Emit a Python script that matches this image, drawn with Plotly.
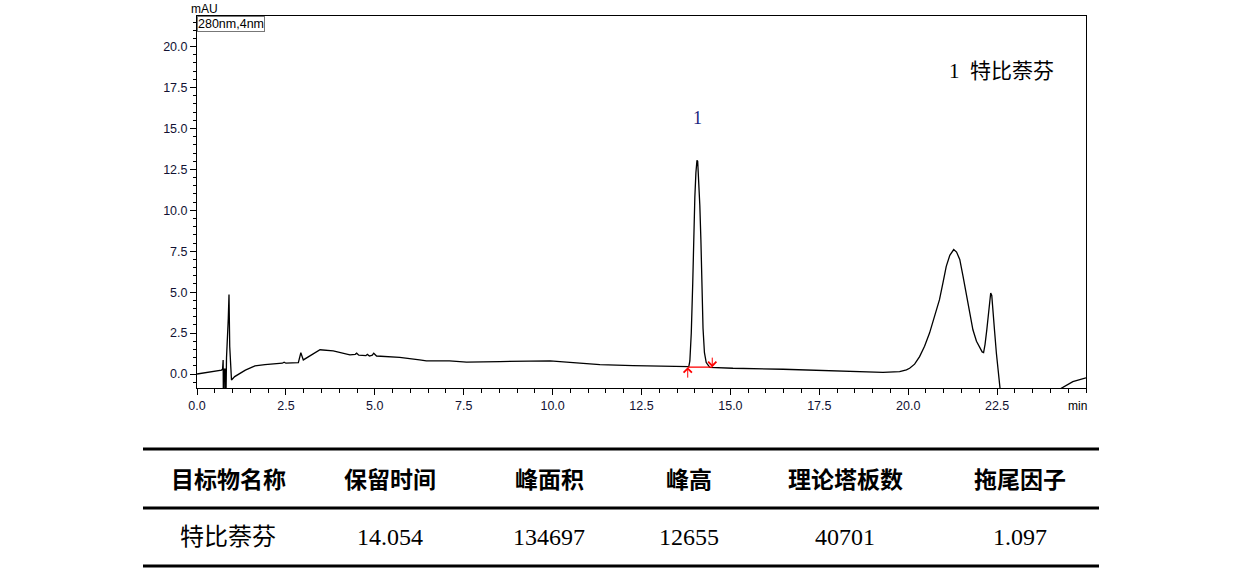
import plotly.graph_objects as go

# chromatogram (min, mAU)
time_min = [0.0, 0.35, 0.69, 0.72, 0.735, 0.745, 0.76, 0.79, 0.805, 0.83, 0.86, 0.88, 0.90, 0.92,
            0.97, 1.06, 1.36, 1.63, 1.91, 2.24, 2.40, 2.45, 2.50, 2.85, 2.92, 2.99, 3.46, 3.83,
            4.30, 4.45, 4.49, 4.55, 4.75, 4.79, 4.85, 4.93, 4.97, 5.05, 5.70, 6.26, 6.45, 7.10,
            7.58, 8.52, 9.46, 9.93, 10.58, 11.33, 12.26, 13.76, 13.83, 13.86, 13.90, 13.94, 13.97,
            14.00, 14.03, 14.06, 14.08, 14.11, 14.14, 14.17, 14.20, 14.23, 14.27, 14.32, 14.42,
            15.07, 16.48, 17.88, 19.29, 19.76, 19.95, 20.04, 20.18, 20.32, 20.46, 20.60, 20.74,
            20.88, 20.98, 21.07, 21.17, 21.28, 21.36, 21.45, 21.54, 21.63, 21.72, 21.82, 21.92,
            22.01, 22.08, 22.12, 22.16, 22.21, 22.27, 22.32, 22.35, 22.38, 22.43, 22.48, 22.57,
            22.66, 24.0, 24.25, 24.63, 25.0]
signal_mau = [0.0, 0.12, 0.24, 0.3, 0.85, -3.0, 0.3, 0.3, -3.0, 1.0, 2.2, 3.4, 4.85, 1.7,
              -0.37, -0.16, 0.24, 0.49, 0.57, 0.6, 0.66, 0.72, 0.66, 0.7, 1.3, 0.86, 1.48, 1.41,
              1.17, 1.2, 1.27, 1.15, 1.12, 1.2, 1.1, 1.15, 1.27, 1.1, 1.02, 0.86, 0.8, 0.8,
              0.72, 0.76, 0.76, 0.8, 0.69, 0.57, 0.51, 0.41, 0.45, 0.8, 2.5, 5.5, 8.6,
              10.8, 12.3, 13.05, 13.0, 12.0, 10.3, 8.2, 5.2, 2.8, 1.3, 0.7, 0.41,
              0.35, 0.29, 0.2, 0.1, 0.14, 0.25, 0.35, 0.6, 1.06, 1.7, 2.5, 3.5,
              4.54, 5.6, 6.58, 7.25, 7.6, 7.45, 7.0, 6.0, 4.95, 3.8, 2.7, 2.0,
              1.58, 1.35, 1.31, 1.8, 2.7, 4.0, 4.95, 4.8, 4.13, 2.6, 1.27, -0.86,
              -2.5, -2.5, -0.94, -0.47, -0.23]

# integration of peak 1
integ_start = [13.80, 0.42]
integ_end = [14.49, 0.42]
peak_label = [14.07, 15.65, "1"]
legend_text = "1  特比萘芬"

x_ticks = [0.0, 2.5, 5.0, 7.5, 10.0, 12.5, 15.0, 17.5, 20.0, 22.5]

table_header = ["目标物名称", "保留时间", "峰面积", "峰高", "理论塔板数", "拖尾因子"]
table_row = ["特比萘芬", "14.054", "134697", "12655", "40701", "1.097"]
col_centers_px = [228, 390, 549, 689, 845, 1020]

W, H = 1260, 571
ML, MR, MT, MB = 197, 174, 16, 183


def px_x(px):
    return (px - ML) / (W - ML - MR)


def px_y(py):
    return (H - MB - py) / (H - MT - MB)


def paper_text(px, py, text, font, **kw):
    d = dict(x=px_x(px), y=px_y(py), xref='paper', yref='paper', text=text,
             showarrow=False, xanchor='center', yanchor='middle', font=font)
    d.update(kw)
    return d


fig = go.Figure()
fig.add_trace(go.Scatter(x=time_min, y=signal_mau, mode='lines',
                         line=dict(color='black', width=1.3), hoverinfo='skip'))
fig.add_trace(go.Scatter(x=[integ_start[0], integ_end[0]], y=[integ_start[1], integ_end[1]],
                         mode='lines', line=dict(color='red', width=1.3), hoverinfo='skip'))

sans12 = dict(family='Liberation Sans', size=12, color='black')
annots = [
    dict(x=integ_start[0], y=integ_start[1], ax=0, ay=12, showarrow=True, arrowhead=4,
         arrowsize=1.6, arrowwidth=1, arrowcolor='red', text=''),
    dict(x=integ_end[0], y=integ_end[1], ax=0, ay=-11, showarrow=True, arrowhead=4,
         arrowsize=1.6, arrowwidth=1, arrowcolor='red', text=''),
    dict(x=peak_label[0], y=peak_label[1], text=peak_label[2], showarrow=False,
         font=dict(family='Liberation Serif', size=18, color='#1a237e')),
    paper_text(947, 71, legend_text,
               dict(family='Liberation Serif, Noto Sans CJK SC', size=21, color='black'),
               xanchor='left'),
    paper_text(204, 9, 'mAU', sans12),
    dict(x=0, y=1, xref='paper', yref='paper', text='280nm,4nm', showarrow=False,
         xanchor='left', yanchor='top', bordercolor='#777', borderwidth=1, borderpad=0,
         bgcolor='white', font=dict(family='Liberation Sans', size=12.5, color='black')),
    paper_text(1077, 406, 'min', sans12),
]

for cx, h, v in zip(col_centers_px, table_header, table_row):
    annots.append(paper_text(cx, 478, '<b>' + h + '</b>',
                             dict(family='Noto Sans CJK SC', size=23, color='black')))
    annots.append(paper_text(cx, 537, v,
                             dict(family='Liberation Serif, Noto Sans CJK SC', size=24, color='black')))

shapes = []
for ly in [449, 508, 566]:
    shapes.append(dict(type='line', xref='paper', yref='paper', x0=px_x(143), x1=px_x(1099),
                       y0=px_y(ly), y1=px_y(ly), line=dict(color='black', width=3)))

fig.update_layout(
    width=W, height=H,
    margin=dict(l=ML, r=MR, t=MT, b=MB),
    paper_bgcolor='white', plot_bgcolor='white',
    showlegend=False,
    annotations=annots,
    shapes=shapes,
    font=dict(family='Liberation Sans', size=12, color='black'),
)
fig.update_xaxes(range=[0, 25], tickmode='array', tickvals=x_ticks, tickformat='.1f',
                 showgrid=False, zeroline=False, showline=True, linecolor='black', linewidth=1,
                 mirror=True, ticks='outside', ticklen=6, tickcolor='black',
                 tickfont=dict(family='Liberation Sans', size=12.5, color='#111133'),
                 minor=dict(dtick=0.5, tick0=0, ticks='outside', ticklen=4, tickcolor='black'))
fig.update_yaxes(range=[-0.855, 21.87], dtick=2.5, tick0=0, tickformat='.1f',
                 showgrid=False, zeroline=False, showline=True, linecolor='black', linewidth=1,
                 mirror=True, ticks='outside', ticklen=6, tickcolor='black',
                 tickfont=dict(family='Liberation Sans', size=12.5, color='#111133'),
                 minor=dict(dtick=0.5, tick0=0, ticks='outside', ticklen=3, tickcolor='black'))

# page has a default 8px body margin; drop it so the figure sits at the window corner
fig.write_html("out.html", config={'displayModeBar': False},
               post_script="document.body.style.margin='0px';")
